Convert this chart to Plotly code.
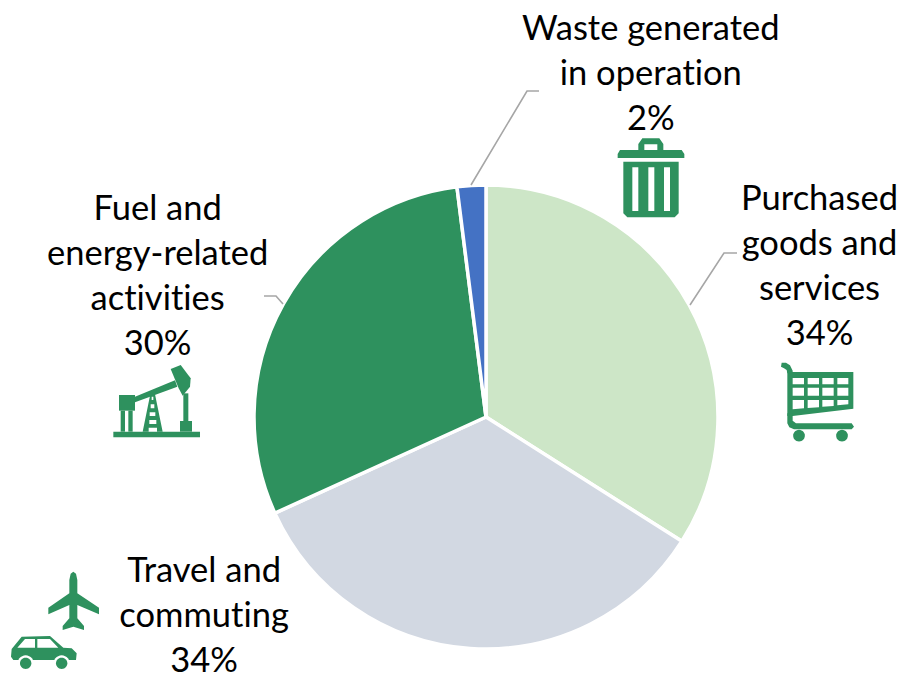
import math
import plotly.graph_objects as go

W, H = 901, 673

categories = ["Purchased goods and services", "Travel and commuting",
              "Fuel and energy-related activities", "Waste generated in operation"]
slice_values = [34, 34.2, 29.8, 2]
slice_colors = ["#CDE6C7", "#D2D8E2", "#2E915E", "#4472C4"]
label_lines = [
    ["Purchased", "goods and", "services", "34%"],
    ["Travel and", "commuting", "34%"],
    ["Fuel and", "energy-related", "activities", "30%"],
    ["Waste generated", "in operation", "2%"],
]
label_centers = [(819, 264), (204, 613), (157, 274), (651, 72)]

GREEN = "#2E915E"
GREY = "#A6A6A6"


def px(x, y):
    return f"{x / W:.5f},{1 - y / H:.5f}"


def poly(pts, ox=0, oy=0, s=1.0):
    return "M" + " L".join(px(ox + a * s, oy + b * s) for a, b in pts) + " Z"


def rect(x0, y0, x1, y1, ox=0, oy=0, s=1.0):
    return poly([(x0, y0), (x1, y0), (x1, y1), (x0, y1)], ox, oy, s)


def circ(cx, cy, r, ox=0, oy=0, s=1.0):
    n = 28
    return poly([(cx + r * math.cos(2 * math.pi * i / n), cy + r * math.sin(2 * math.pi * i / n))
                 for i in range(n)], ox, oy, s)


def icon(path, color=GREEN):
    return dict(type="path", xref="paper", yref="paper", path=path,
                fillcolor=color, line=dict(width=0), layer="above")


def leader(pts):
    p = "M" + " L".join(px(a, b) for a, b in pts)
    return dict(type="path", xref="paper", yref="paper", path=p,
                line=dict(color=GREY, width=1.6), layer="above")


shapes = [
    leader([(471, 185), (527, 91), (539, 91)]),
    leader([(690, 305), (724, 253), (737, 253)]),
    leader([(264, 296), (276, 296), (283, 304)]),
]

# Trash can (zoom-crop units, 1/3 px)
o = dict(ox=600, oy=130, s=1 / 3)
trash = [
    poly([(53, 72), (60, 60), (115, 60), (115, 42), (127, 25), (178, 25), (190, 42), (190, 60),
          (245, 60), (253, 72), (253, 84), (53, 84)], **o),
    rect(133, 43, 172, 60, **o),
    poly([(70, 95), (236, 95), (236, 250), (224, 262), (82, 262), (70, 250)], **o),
    rect(97, 112, 115, 243, **o),
    rect(145, 112, 163, 243, **o),
    rect(192, 112, 210, 243, **o),
]
shapes.append(icon(" ".join(trash)))

# Shopping cart
o = dict(ox=770, oy=350, s=1 / 3)
cart_holes = []
xs = [(68, 102), (113, 147), (157, 191), (202, 235)]
for a, b in xs:
    cart_holes.append(rect(a, 84, b, 103, **o))
    cart_holes.append(rect(a, 113, b, 137, **o))
cart_holes += [
    poly([(68, 150), (102, 150), (102, 175), (68, 178)], **o),
    poly([(113, 150), (147, 150), (147, 172), (113, 174)], **o),
    poly([(157, 150), (191, 150), (191, 168), (157, 170)], **o),
    poly([(202, 150), (235, 150), (235, 163), (202, 166)], **o),
]
shapes.append(icon(poly([(52, 66), (250, 66), (250, 176), (68, 198), (52, 198)], **o) + " " + " ".join(cart_holes)))
shapes.append(icon(" ".join([
    poly([(35, 38), (48, 38), (60, 46), (68, 62), (68, 70), (52, 70), (50, 60), (42, 55), (33, 50)], **o),
    poly([(52, 190), (68, 190), (68, 212), (78, 220), (245, 220), (252, 230), (245, 238),
          (72, 238), (58, 232), (52, 220)], **o),
])))
shapes.append(icon(circ(87, 257, 17.5, **o)))
shapes.append(icon(circ(216, 257, 17.5, **o)))

# Pump jack
o = dict(ox=100, oy=355, s=1 / 3)
shapes.append(icon(rect(40, 230, 300, 247, **o)))
shapes.append(icon(rect(57, 120, 105, 167, **o)))
shapes.append(icon(rect(62, 167, 75, 230, **o)))
shapes.append(icon(rect(85, 167, 98, 230, **o)))
shapes.append(icon(poly([(105, 125), (225, 76), (232, 95), (105, 142)], **o)))
shapes.append(icon(poly([(212, 42), (242, 30), (272, 70), (270, 95), (248, 122), (236, 100)], **o)))
shapes.append(icon(rect(250, 115, 265, 200, **o)))
shapes.append(icon(rect(240, 198, 276, 230, **o)))
shapes.append(icon(" ".join([
    poly([(150, 122), (165, 118), (188, 230), (128, 230)], **o),
    rect(155, 125, 160, 135, **o),
    rect(152, 148, 163, 160, **o),
    rect(149, 172, 166, 183, **o),
    rect(148, 195, 169, 207, **o),
    rect(146, 218, 171, 230, **o),
])))

# Plane
o = dict(ox=0, oy=565, s=1 / 3)
shapes.append(icon(poly([(220, 20), (228, 26), (232, 45), (232, 85), (297, 128), (297, 148), (232, 120),
                         (232, 160), (252, 183), (252, 195), (220, 185), (188, 195), (188, 183),
                         (208, 160), (208, 120), (145, 148), (145, 128), (208, 85), (208, 45),
                         (212, 26)], **o)))

# Car
car = [
    poly([(35, 252), (65, 215), (150, 213), (190, 248), (215, 250), (230, 265), (228, 285),
          (40, 285), (33, 275)], **o),
    poly([(52, 248), (75, 222), (105, 222), (105, 248)], **o),
    poly([(112, 222), (150, 222), (175, 248), (112, 248)], **o),
]
shapes.append(icon(" ".join(car)))
shapes.append(icon(circ(77, 295, 24, **o), "#FFFFFF"))
shapes.append(icon(circ(185, 295, 24, **o), "#FFFFFF"))
shapes.append(icon(circ(77, 295, 17, **o)))
shapes.append(icon(circ(185, 295, 17, **o)))

annotations = [
    dict(x=cx / W, y=1 - cy / H, xref="paper", yref="paper", xanchor="center", yanchor="middle",
         text="<br>".join(lines), showarrow=False, align="center",
         font=dict(family="Lato", size=34.5, color="#000000"))
    for lines, (cx, cy) in zip(label_lines, label_centers)
]

fig = go.Figure(go.Pie(
    labels=categories, values=slice_values, sort=False, direction="clockwise", rotation=0,
    marker=dict(colors=slice_colors, line=dict(color="#FFFFFF", width=3.5)),
    textinfo="none", showlegend=False,
    domain=dict(x=[254 / W, 718 / W], y=[1 - 649 / H, 1 - 185 / H]),
))
fig.update_layout(width=W, height=H, margin=dict(l=0, r=0, t=0, b=0), autosize=False,
                  paper_bgcolor="#FFFFFF", shapes=shapes, annotations=annotations)
post = ("document.documentElement.style.margin='0';document.body.style.margin='0';"
        "document.documentElement.style.overflow='hidden';"
        "var st=document.createElement('style');"
        "st.textContent='text,tspan{font-variant-ligatures:none !important;"
        "font-feature-settings:\"liga\" 0,\"clig\" 0 !important;}';document.head.appendChild(st);")
fig.write_html("out.html", post_script=post, config={"displayModeBar": False})
